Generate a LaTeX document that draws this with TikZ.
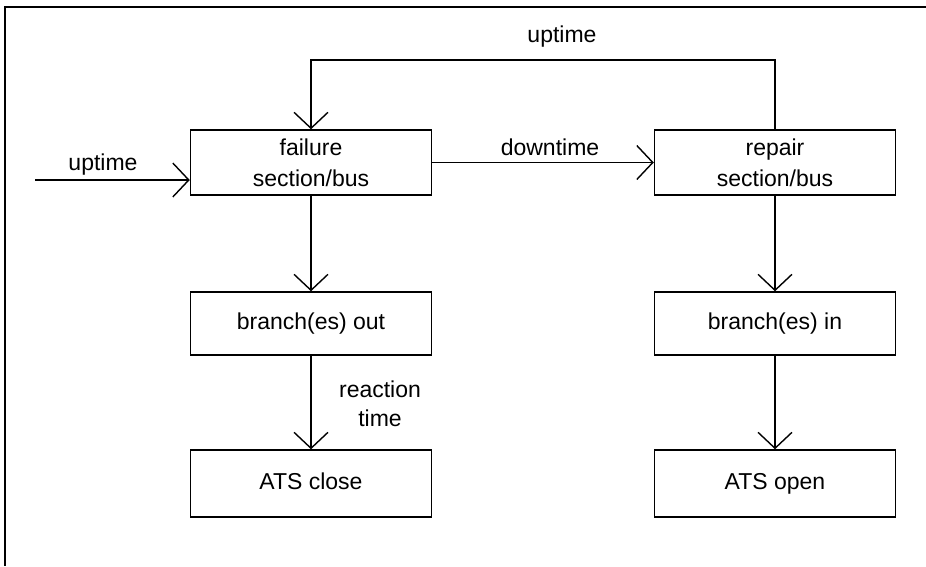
\documentclass[tikz,border=0pt]{standalone}
\usepackage{fontspec}
\setmainfont{Liberation Sans}
\usetikzlibrary{arrows.meta}
\begin{document}
\begin{tikzpicture}[x=1pt,y=-1pt,
  every node/.style={font=\fontsize{23}{31}\selectfont},
  blockbox/.style={draw,line width=1.5pt,rectangle,minimum width=241pt,minimum height=65pt,align=center,inner sep=0pt},
  oneline/.style={text height=16.5pt,text depth=5pt},
  conn/.style={line width=1.4pt,-{Straight Barb[length=16pt,width=34pt,line width=1.4pt]}},
  lbl/.style={inner sep=0pt,align=center}]
\useasboundingbox (0,0) rectangle (926,566);
% frame (top and left edges)
\draw[line width=2pt] (4,7) -- (926,7);
\draw[line width=2pt] (5,7) -- (5,566);
% boxes
\node[blockbox] (fail) at (311,162.5) {failure\\section/bus};
\node[blockbox] (rep) at (775,162.5) {repair\\section/bus};
\node[blockbox,oneline,minimum height=63pt] (bout) at (311,323.5) {branch(es) out};
\node[blockbox,oneline,minimum height=63pt] (bin) at (775,323.5) {branch(es) in};
\node[blockbox,oneline,minimum height=67pt] (atsc) at (311,483.5) {ATS close};
\node[blockbox,oneline,minimum height=67pt] (atso) at (775,483.5) {ATS open};
% connectors
\coordinate (lin) at (35,180);
\coordinate (looptop) at (0,60);
\draw[conn] (lin) -- (lin -| fail.west);
\draw[conn] (fail.east) -- (rep.west);
\draw[conn] (rep.north) -- (rep.north |- looptop) -| (fail.north);
\draw[conn] (fail.south) -- (bout.north);
\draw[conn] (rep.south) -- (bin.north);
\draw[conn] (bout.south) -- (atsc.north);
\draw[conn] (bin.south) -- (atso.north);
% labels
\node[lbl] (l1) at (103,165) {uptime};
\node[lbl] (l2) at (550,147) {downtime};
\node[lbl] (l3) at (562,37) {uptime};
\node[lbl,font=\fontsize{23}{29}\selectfont] (l4) at (380,404) {reaction\\time};
\end{tikzpicture}
\end{document}
